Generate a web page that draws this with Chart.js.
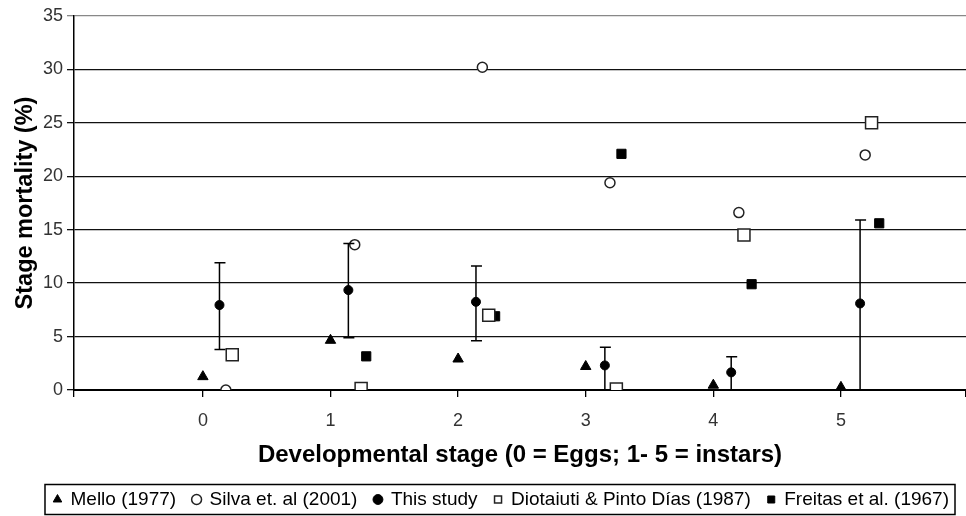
<!DOCTYPE html>
<html>
<head>
<meta charset="utf-8">
<script src="https://cdn.jsdelivr.net/npm/chart.js@4"></script>
<style>
  html, body { margin: 0; padding: 0; background: #fff; }
</style>
</head>
<body>
<canvas id="grafico" width="966" height="516"></canvas>
<script>
// Datos (mortalidad por estadio, %)
const estadios = [0, 1, 2, 3, 4, 5];

const melloX = [0, 1, 2, 3, 4, 5];
const mello = [1.25, 4.65, 2.9, 2.2, 0.45, 0.25];

const silvaX = [0.18, 1.19, 2.19, 3.19, 4.2, 5.19];
const silva = [0, 13.6, 30.2, 19.4, 16.6, 22.0];

const estudioX = [0.13, 1.14, 2.14, 3.15, 4.14, 5.15];
const estudio = [7.95, 9.35, 8.25, 2.3, 1.65, 8.1];
const estudioAlto = [11.9, 13.7, 11.6, 4.0, 3.1, 15.9];
const estudioBajo = [3.8, 4.9, 4.6, 0, 0, 0];

const diotX = [0.23, 1.24, 2.24, 3.24, 4.24, 5.24];
const diot = [3.3, 0.15, 7.0, 0.1, 14.5, 25.0];

const freitasX = [1.28, 2.29, 3.28, 4.3, 5.3];
const freitas = [3.15, 6.9, 22.1, 9.9, 15.6];

const yTicks = [0, 5, 10, 15, 20, 25, 30, 35];
const xMin = -1.01;
const xMax = 5.98;

const puntos = (xs, ys) => xs.map((x, i) => ({ x: x, y: ys[i] }));

const fuente = 'Liberation Sans, Arial, sans-serif';

// Barras de error para "This study"
const barrasError = {
    id: 'barrasError',
    afterDatasetsDraw(chart) {
        const { ctx, scales: { x, y } } = chart;
        ctx.save();
        ctx.strokeStyle = '#000';
        ctx.lineWidth = 1.5;
        estudioX.forEach((v, i) => {
            const px = x.getPixelForValue(v);
            const yTop = y.getPixelForValue(estudioAlto[i]);
            const yBot = y.getPixelForValue(estudioBajo[i]);
            ctx.beginPath();
            ctx.moveTo(px, yTop);
            ctx.lineTo(px, yBot);
            ctx.moveTo(px - 5, yTop);
            ctx.lineTo(px + 6, yTop);
            ctx.moveTo(px - 5, yBot);
            ctx.lineTo(px + 6, yBot);
            ctx.stroke();
        });
        ctx.restore();
    }
};

// Marco alrededor de la leyenda
const marcoLeyenda = {
    id: 'marcoLeyenda',
    afterDraw(chart) {
        const cajas = chart.legend.legendHitBoxes;
        if (!cajas || !cajas.length) return;
        const primera = cajas[0];
        const ultima = cajas[cajas.length - 1];
        const ctx = chart.ctx;
        ctx.save();
        ctx.strokeStyle = '#000';
        ctx.lineWidth = 1.5;
        const izq = primera.left - 9;
        const der = ultima.left + ultima.width + 6;
        const cy = primera.top + primera.height / 2;
        ctx.strokeRect(izq, cy - 15, der - izq, 30);
        ctx.restore();
    }
};

const ctx = document.getElementById('grafico').getContext('2d');
new Chart(ctx, {
    type: 'scatter',
    data: {
        datasets: [
            {
                label: 'Mello (1977)',
                data: puntos(melloX, mello),
                pointStyle: 'triangle',
                pointRadius: 6,
                backgroundColor: '#000',
                borderColor: '#000',
                borderWidth: 1
            },
            {
                label: 'Silva et. al (2001)',
                data: puntos(silvaX, silva),
                pointStyle: 'circle',
                pointRadius: 5,
                backgroundColor: '#fff',
                borderColor: '#222',
                borderWidth: 1.5
            },
            {
                label: 'This study',
                data: puntos(estudioX, estudio),
                pointStyle: 'circle',
                pointRadius: 4.5,
                backgroundColor: '#000',
                borderColor: '#000',
                borderWidth: 1
            },
            {
                label: 'Diotaiuti & Pinto Días (1987)',
                data: puntos(diotX, diot),
                pointStyle: 'rect',
                pointRadius: 8.5,
                backgroundColor: '#fff',
                borderColor: '#222',
                borderWidth: 1.5
            },
            {
                label: 'Freitas et al. (1967)',
                data: puntos(freitasX, freitas),
                pointStyle: 'rect',
                pointRadius: 6.5,
                backgroundColor: '#000',
                borderColor: '#000',
                borderWidth: 1
            }
        ]
    },
    options: {
        responsive: false,
        animation: false,
        layout: { autoPadding: false, padding: { top: 16, right: 0, bottom: -3, left: 0 } },
        plugins: {
            tooltip: { enabled: false },
            legend: {
                position: 'bottom',
                align: 'end',
                labels: {
                    usePointStyle: true,
                    boxWidth: 7,
                    boxHeight: 7,
                    padding: 17,
                    color: '#000',
                    font: { family: fuente, size: 19 }
                }
            }
        },
        scales: {
            x: {
                type: 'linear',
                min: xMin,
                max: xMax,
                afterBuildTicks: (scale) => {
                    scale.ticks = [xMin].concat(estadios, [xMax]).map(v => ({ value: v }));
                },
                afterFit: (scale) => {
                    scale.height = 83;
                    scale.paddingLeft = 0;
                    scale.paddingRight = 0;
                },
                ticks: {
                    callback: (v) => estadios.includes(v) ? String(v) : '',
                    color: '#333',
                    padding: 13,
                    maxRotation: 0,
                    font: { family: fuente, size: 18 }
                },
                grid: {
                    drawOnChartArea: false,
                    drawTicks: true,
                    tickLength: 7,
                    color: '#000',
                    lineWidth: 1.3
                },
                border: { color: '#000', width: 2 },
                title: {
                    display: true,
                    text: 'Developmental stage (0 = Eggs; 1- 5 = instars)',
                    color: '#000',
                    padding: { top: 0, bottom: 3 },
                    font: { family: fuente, size: 24, weight: 'bold' }
                }
            },
            y: {
                min: 0,
                max: 35,
                afterBuildTicks: (scale) => {
                    scale.ticks = yTicks.map(v => ({ value: v }));
                },
                afterFit: (scale) => { scale.width = 74; },
                ticks: {
                    color: '#333',
                    padding: 4,
                    font: { family: fuente, size: 18 }
                },
                grid: {
                    color: (c) => c.tick && c.tick.value === 35 ? '#888' : '#111',
                    lineWidth: 1.3,
                    tickLength: 7
                },
                border: { color: '#000', width: 1.5 },
                title: {
                    display: true,
                    text: 'Stage mortality (%)',
                    color: '#000',
                    padding: { top: 11, bottom: 0 },
                    font: { family: fuente, size: 23.5, weight: 'bold' }
                }
            }
        }
    },
    plugins: [barrasError, marcoLeyenda]
});
</script>
</body>
</html>
